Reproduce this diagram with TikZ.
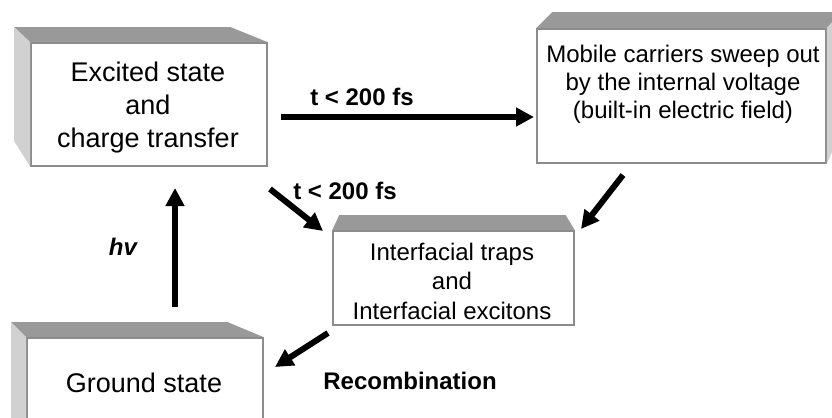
\documentclass[tikz,border=0pt]{standalone}
\usepackage{fontspec}
\setmainfont{Liberation Sans}
\usetikzlibrary{arrows.meta}
\definecolor{boxline}{gray}{0.55}
\definecolor{topgray}{gray}{0.6}
\definecolor{sidegray}{gray}{0.82}
\tikzset{
  front/.style={draw=boxline, fill=white, line width=0.8pt, inner sep=0pt},
  flow/.style={line width=3pt, -{Triangle[length=9pt,width=9pt]}},
  big/.style={font=\fontsize{13.5}{16.5}\selectfont, align=center},
  small/.style={font=\fontsize{12}{14}\selectfont, align=center},
  tag/.style={font=\fontsize{12}{14}\selectfont\bfseries}
}

\begin{document}
\begin{tikzpicture}[x=0.5pt,y=-0.5pt]
\useasboundingbox (0,0) rectangle (832,418);
\clip (0,0) rectangle (832,418);

\node[front, minimum width=118pt, minimum height=61.5pt] (exc) at (149,104.5) {};
\node[front, minimum width=144.5pt, minimum height=67pt] (mob) at (681.5,96) {};
\node[front, minimum width=120.5pt, minimum height=47pt] (trap) at (453.5,278) {};
\node[front, minimum width=118pt, minimum height=52pt] (gnd) at (145,390) {};

\fill[topgray] (exc.north west) -- ++(-16,-15) -- ([shift={(-37,-15)}]exc.north east) -- (exc.north east) -- cycle;
\fill[sidegray] (exc.north west) -- ++(-16,-15) -- ++(0,114) -- (exc.south west) -- cycle;
\fill[topgray] (mob.north west) -- ++(16,-16) -- ([shift={(14,-16)}]mob.north east) -- (mob.north east) -- cycle;
\fill[sidegray] (mob.north east) -- ++(14,-16) -- ++(0,120) -- (mob.south east) -- cycle;
\fill[topgray] (trap.north west) -- ++(7,-15) -- ([shift={(-9,-15)}]trap.north east) -- (trap.north east) -- cycle;
\fill[topgray] (gnd.north west) -- ++(-15,-15) -- ([shift={(-36,-15)}]gnd.north east) -- (gnd.north east) -- cycle;
\fill[sidegray] (gnd.north west) -- ++(-15,-15) -- ++(0,150) -- (gnd.south west) -- cycle;

\node[big] (exctxt) at (148,108) {Excited state\\and\\charge transfer};
\node[small] (mobtxt) at (683,84) {Mobile carriers sweep out\\by the internal voltage\\(built-in electric field)};
\node[small, font=\fontsize{12}{14.75}\selectfont] (traptxt) at (452,281) {Interfacial traps\\and\\Interfacial excitons};
\node[big] (gndtxt) at (144,383) {Ground state};

\coordinate (e1) at (281,117);
\coordinate (m1) at (534,117);
\coordinate (g1) at (175,307);
\coordinate (e2) at (175,188);
\coordinate (e3) at (270,189);
\coordinate (t3) at (323,231);
\coordinate (m4) at (623,175);
\coordinate (t4) at (581,229);
\coordinate (t5) at (328,333);
\coordinate (g5) at (275,367);

\draw[flow] (e1) -- (m1);
\draw[flow] (g1) -- (e2);
\draw[flow] (e3) -- (t3);
\draw[flow] (m4) -- (t4);
\draw[flow] (t5) -- (g5);

\node[tag] (fast1) at (362,97) {t < 200 fs};
\node[tag] (fast2) at (345,191) {t < 200 fs};
\node[tag] (hv) at (123,247) {\itshape hv};
\node[tag] (rec) at (410,381) {Recombination};
\end{tikzpicture}
\end{document}
